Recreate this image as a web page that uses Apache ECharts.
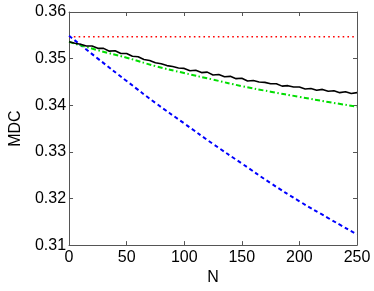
<!DOCTYPE html>
<html><head><meta charset="utf-8">
<script src="https://cdn.jsdelivr.net/npm/echarts@6/dist/echarts.min.js"></script>
<style>html,body{margin:0;padding:0;background:#fff}#c{width:374px;height:291px}</style>
</head><body><div id="c"></div>
<script>
const xTicks = [0, 50, 100, 150, 200, 250];
const yTicks = [0.31, 0.32, 0.33, 0.34, 0.35, 0.36];
const xBlack = [0,5,10,15,20,25,30,35,40,45,50,55,60,65,70,75,80,85,90,95,100,105,110,115,120,125,130,135,140,145,150,155,160,165,170,175,180,185,190,195,200,205,210,215,220,225,230,235,240,245,250];
const blackVals = [0.3536,0.3533,0.3531,0.3527,0.3527,0.3522,0.3522,0.3516,0.3517,0.3511,0.3511,0.3505,0.3504,0.3498,0.3496,0.3491,0.3489,0.3485,0.3483,0.3480,0.3479,0.3474,0.3475,0.3470,0.3471,0.3465,0.3466,0.3461,0.3462,0.3457,0.3458,0.3452,0.3453,0.3450,0.3449,0.3446,0.3446,0.3441,0.3442,0.3439,0.3439,0.3435,0.3436,0.3432,0.3434,0.3430,0.3431,0.3427,0.3429,0.3425,0.3427];
const xCoarse = [0,25,50,75,100,125,150,175,200,225,250];
const greenVals = [0.3536,0.3518,0.3502,0.3484,0.3469,0.3455,0.3441,0.3429,0.3418,0.3407,0.3397];
const blueVals = [0.3549,0.3500,0.3452,0.3405,0.3361,0.3317,0.3275,0.3233,0.3194,0.3158,0.3123];
const xRed = [0, 250];
const redVals = [0.3547, 0.3547];

const pair = (xs, ys) => xs.map((x, i) => [x, ys[i]]);
const font = 'Liberation Sans, Arial, Helvetica, sans-serif';
const axisCol = '#555';
const chart = echarts.init(document.getElementById('c'), null, {renderer: 'canvas'});
const baseX = {
  type: 'value', min: xTicks[0], max: xTicks[xTicks.length-1], interval: 50,
  axisLine: {show: true, onZero: false, lineStyle: {color: axisCol, width: 1}},
  axisTick: {show: true, inside: true, length: 4, lineStyle: {color: axisCol}},
  splitLine: {show: false}
};
const baseY = {
  type: 'value', min: yTicks[0], max: yTicks[yTicks.length-1], interval: 0.01,
  axisLine: {show: true, onZero: false, lineStyle: {color: axisCol, width: 1}},
  axisTick: {show: true, inside: true, length: 4, lineStyle: {color: axisCol}},
  splitLine: {show: false}
};
chart.setOption({
  animation: false,
  backgroundColor: '#fff',
  grid: {left: 56, right: 17, top: 12, bottom: 38},
  xAxis: [
    Object.assign({}, baseX, {position: 'bottom', name: 'N', nameLocation: 'middle', nameGap: 19,
      nameTextStyle: {fontFamily: font, fontSize: 16, color: '#000'},
      axisLabel: {fontFamily: font, fontSize: 16, color: '#000', margin: 4}}),
    Object.assign({}, baseX, {position: 'top', axisLabel: {show: false}})
  ],
  yAxis: [
    Object.assign({}, baseY, {position: 'left', name: 'MDC', nameLocation: 'middle', nameGap: 44,
      nameTextStyle: {fontFamily: font, fontSize: 16, color: '#000'},
      axisLabel: {fontFamily: font, fontSize: 16, color: '#000', margin: 3, formatter: v => v.toFixed(2)}}),
    Object.assign({}, baseY, {position: 'right', axisLabel: {show: false}})
  ],
  series: [
    {type: 'line', data: pair(xRed, redVals), showSymbol: false, lineStyle: {color: '#ff0000', width: 1.6, type: [1.6, 3.2]}},
    {type: 'line', data: pair(xCoarse, blueVals), smooth: true, showSymbol: false, lineStyle: {color: '#0000ff', width: 2, type: [4, 3]}},
    {type: 'line', data: pair(xCoarse, greenVals), smooth: true, showSymbol: false, lineStyle: {color: '#00dd00', width: 2, type: [5, 2.5, 1.5, 2.5]}},
    {type: 'line', data: pair(xBlack, blackVals), showSymbol: false, lineStyle: {color: '#000', width: 1.6}}
  ]
});
</script></body></html>
